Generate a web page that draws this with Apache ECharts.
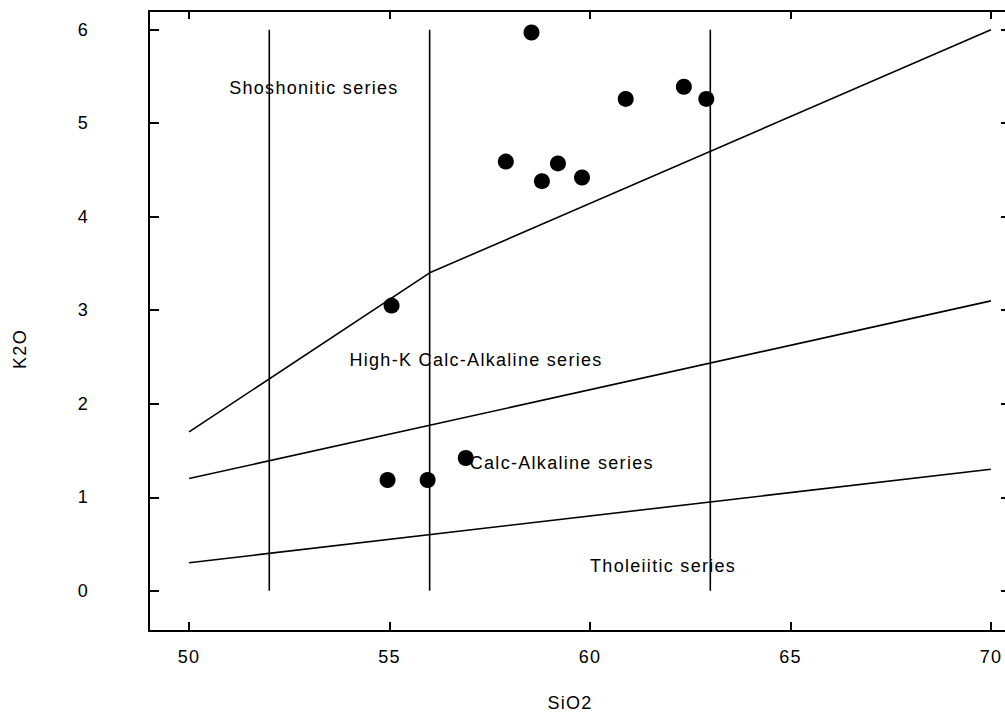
<!DOCTYPE html>
<html><head><meta charset="utf-8">
<script src="https://cdn.jsdelivr.net/npm/echarts@6/dist/echarts.min.js"></script>
<style>html,body{margin:0;padding:0;background:#fff}#c{width:1005px;height:713px;letter-spacing:1.3px}</style>
</head><body><div id="c"></div>
<script>
const xTicks = [50, 55, 60, 65, 70];
const yTicks = [0, 1, 2, 3, 4, 5, 6];
const sampleSiO2 = [58.54, 60.89, 62.34, 62.9, 57.9, 59.2, 58.8, 59.8, 55.05, 54.95, 55.95, 56.9];
const sampleK2O  = [5.97, 5.26, 5.39, 5.26, 4.59, 4.57, 4.38, 4.42, 3.05, 1.185, 1.185, 1.42];
const thBoundX = [50, 70];      const thBoundY = [0.3, 1.3];
const hkBoundX = [50, 70];      const hkBoundY = [1.2, 3.1];
const shBoundX = [50, 56, 70];  const shBoundY = [1.7, 3.4, 6.0];
const siDividers = [52, 56, 63];
const dividerK2O = [0, 6];
const fieldNames = ['Shoshonitic series', 'High-K Calc-Alkaline series', 'Calc-Alkaline series', 'Tholeiitic series'];
const fieldX = [51, 54, 57, 60];
const fieldY = [5.38, 2.47, 1.37, 0.27];

const FONT = "'Liberation Sans', Arial, sans-serif";
const zip = (a, b) => a.map((v, i) => [v, b[i]]);
const lineSeries = (data) => ({
  type: 'line', data, symbol: 'none', silent: true, z: 2,
  lineStyle: { color: '#000', width: 1.6, opacity: 1 }, animation: false
});

const series = [
  lineSeries(zip(thBoundX, thBoundY)),
  lineSeries(zip(hkBoundX, hkBoundY)),
  lineSeries(zip(shBoundX, shBoundY)),
  ...siDividers.map(x => lineSeries(dividerK2O.map(y => [x, y]))),
  {
    type: 'scatter', data: fieldNames.map((n, i) => ({ name: n, value: [fieldX[i], fieldY[i]] })),
    symbolSize: 0, silent: true, z: 1, animation: false,
    itemStyle: { opacity: 1 },
    label: { show: true, formatter: '{b}', position: 'right', distance: 0, align: 'left', verticalAlign: 'middle',
      color: '#000', opacity: 1, fontSize: 18, fontFamily: FONT }
  },
  {
    type: 'scatter', data: zip(sampleSiO2, sampleK2O), symbol: 'circle', symbolSize: 16, z: 5,
    itemStyle: { color: '#000', opacity: 1 }, animation: false
  }
];

const axisCommon = {
  type: 'value', splitLine: { show: false },
  axisLine: { show: true, onZero: false, lineStyle: { color: '#000', width: 2 } }
};

const option = {
  backgroundColor: '#fff',
  animation: false,
  grid: { left: 149, right: -6, top: 11, bottom: 82, outerBoundsMode: 'none', containLabel: false },
  xAxis: [
    Object.assign({}, axisCommon, { position: 'bottom', min: 49, max: 70.5,
      axisTick: { show: true, inside: true, length: 9, customValues: xTicks, lineStyle: { color: '#000', width: 2 } },
      axisLabel: { show: true, customValues: xTicks, margin: 17, color: '#000', fontSize: 18, fontFamily: FONT } }),
    Object.assign({}, axisCommon, { position: 'top', min: 49, max: 70.5,
      axisTick: { show: true, inside: true, length: 8, customValues: xTicks, lineStyle: { color: '#000', width: 2 } },
      axisLabel: { show: false } })
  ],
  yAxis: [
    Object.assign({}, axisCommon, { position: 'left', min: -0.43, max: 6.2,
      axisTick: { show: true, inside: true, length: 10, customValues: yTicks, lineStyle: { color: '#000', width: 2 } },
      axisLabel: { show: true, customValues: yTicks, margin: 60, color: '#000', fontSize: 18, fontFamily: FONT } }),
    Object.assign({}, axisCommon, { position: 'right', min: -0.43, max: 6.2,
      axisTick: { show: true, inside: true, length: 10, customValues: yTicks, lineStyle: { color: '#000', width: 2 } },
      axisLabel: { show: false } })
  ],
  graphic: [
    { type: 'text', x: 20, y: 349, rotation: Math.PI / 2, silent: true,
      style: { text: 'K2O', fill: '#000', font: "18px " + FONT, align: 'center', verticalAlign: 'middle' } },
    { type: 'text', x: 570, y: 703, silent: true,
      style: { text: 'SiO2', fill: '#000', font: "18px " + FONT, align: 'center', verticalAlign: 'middle' } }
  ],
  series
};

const chart = echarts.init(document.getElementById('c'), null, { renderer: 'svg' });
chart.setOption(option);
</script>
</body></html>
